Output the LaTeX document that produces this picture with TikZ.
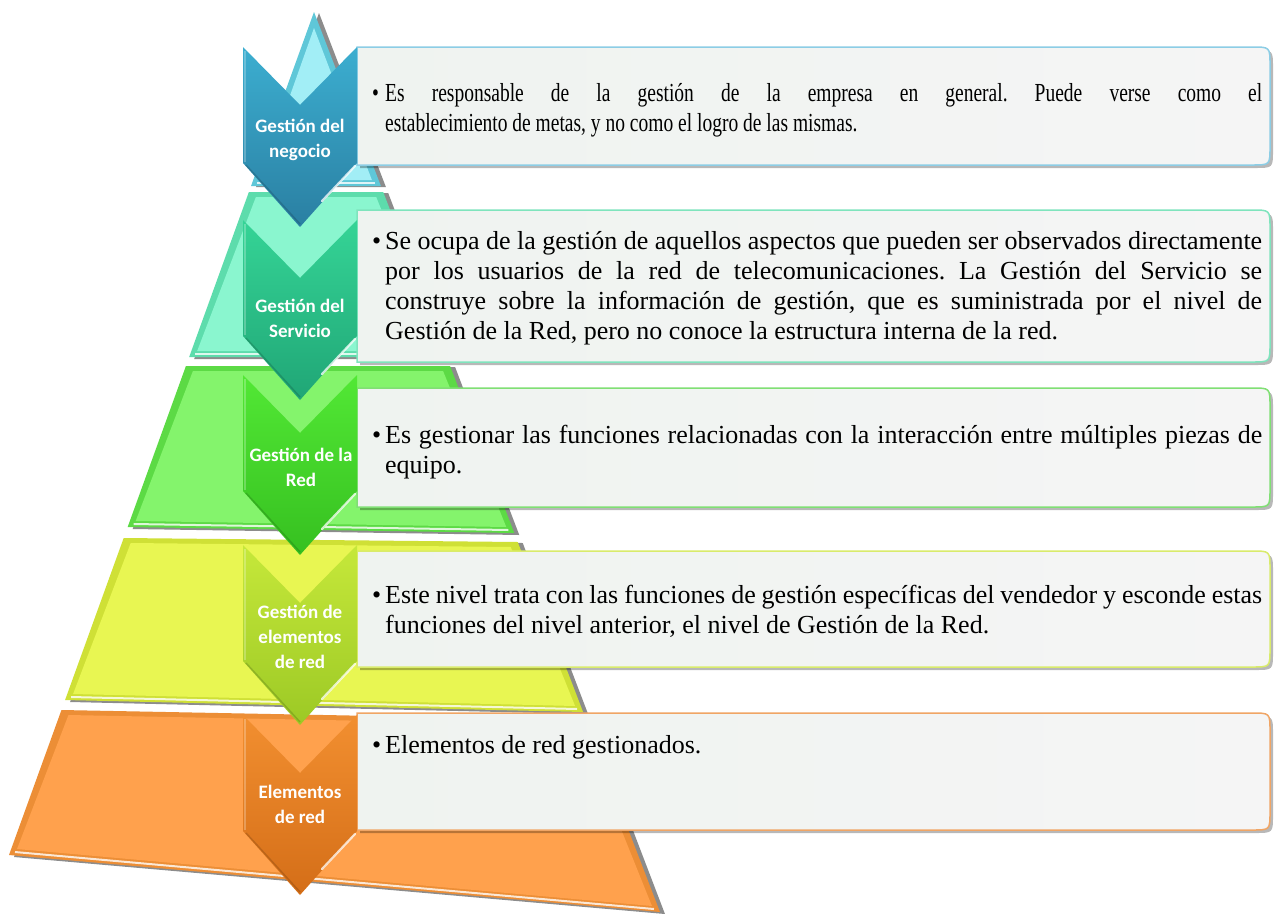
\documentclass[tikz,border=0pt]{standalone}
\usepackage{fontspec}
\setmainfont{Liberation Serif}
\newfontfamily\boxfont{Liberation Serif}
\newfontfamily\boxfontn[FakeStretch=0.75]{Liberation Serif}
\newfontfamily\labfont{Carlito}
\definecolor{l1main}{HTML}{A2EEF6}\definecolor{l1bev}{HTML}{5FC7D8}
\definecolor{l2main}{HTML}{8AF6CF}\definecolor{l2bev}{HTML}{5DDCAC}
\definecolor{l3main}{HTML}{84F46C}\definecolor{l3bev}{HTML}{5CDA45}
\definecolor{l4main}{HTML}{E8F652}\definecolor{l4bev}{HTML}{CFE036}
\definecolor{l5main}{HTML}{FFA14D}\definecolor{l5bev}{HTML}{EC8E36}
\definecolor{c1t}{HTML}{3CAED0}\definecolor{c1b}{HTML}{2A7FA2}
\definecolor{c2t}{HTML}{35D496}\definecolor{c2b}{HTML}{20A676}
\definecolor{c3t}{HTML}{52E835}\definecolor{c3b}{HTML}{36C020}
\definecolor{c4t}{HTML}{C6E83A}\definecolor{c4b}{HTML}{9CC925}
\definecolor{c5t}{HTML}{F28F30}\definecolor{c5b}{HTML}{D46E18}
\definecolor{b1}{HTML}{8CCDE5}\definecolor{b2}{HTML}{7FE4BD}
\definecolor{b3}{HTML}{80DF74}\definecolor{b4}{HTML}{D9EB6B}
\definecolor{b5}{HTML}{F0A565}
\definecolor{boxL}{HTML}{EFF3F0}\definecolor{boxR}{HTML}{F5F5F5}
\newcommand\bul{\hangindent=13pt\hangafter=1\noindent\makebox[13pt][l]{\textbullet}}
\newcommand\boxset{\frenchspacing\hyphenpenalty=10000\exhyphenpenalty=10000\tolerance=10000\fontsize{26}{30}\selectfont}
\tikzset{
  chevlabel/.style={text=white, font=\labfont\bfseries\fontsize{19}{25}\selectfont, align=center, inner sep=0pt},
  boxtext/.style={anchor=base west, inner sep=0pt},
  hilite/.style={white, opacity=.75, line width=2.2pt, line cap=round},
}
% pyramid layer: yTL yTR yBL yBR prefix
\newcommand\pyrlayer[5]{%
  \pgfmathsetmacro\xTL{314-0.3618*(#1-12)}%
  \pgfmathsetmacro\xTR{314+0.3844*(#2-12)}%
  \pgfmathsetmacro\xBL{314-0.3618*(#3-12)}%
  \pgfmathsetmacro\xBR{314+0.3844*(#4-12)}%
  \fill[black,opacity=.45] (\xTL+5,#1+1) -- (\xTR+5,#2+1) -- (\xBR+5,#4+2) -- (\xBL+5,#3+2) -- cycle;
  \fill[#5bev] (\xTL,#1) -- (\xTR,#2) -- (\xBR,#4) -- (\xBL,#3) -- cycle;
  \fill[#5main] (\xTL+7,#1+5) -- (\xTR-7,#2+5) -- (\xBR-8,#4-6) -- (\xBL+8,#3-6) -- cycle;
  \draw[white,opacity=.8,line width=2pt] (\xBL+6,#3-3) -- (\xBR-6,#4-3);
}
% chevron: top y, prefix, name
\newcommand\chev[3]{%
  \coordinate (#3) at (300,#1);
  \shade[top color=#2t, bottom color=#2b] (243,#1) -- (300,#1+58) -- (357,#1) -- (357,#1+116) -- (300,#1+180) -- (243,#1+116) -- cycle;
  \draw[white,opacity=.25,line width=1.5pt] (245,#1+4) -- (245,#1+115);
  \draw[black,opacity=.15,line width=1.5pt] (246,#1+118) -- (300,#1+177);
  \draw[hilite] (355,#1+119) -- (322,#1+154);
}
% text box: top, bottom, border colour, name
\newcommand\tbox[4]{%
  \coordinate (#4) at (357,#1);
  \fill[black,opacity=.28,xshift=3pt,yshift=-3pt] (357,#1) -- (1252,#1) .. controls (1270,#1) .. (1270,#1+18) -- (1270,#2-18) .. controls (1270,#2) .. (1252,#2) -- (357,#2) -- cycle;
  \shade[left color=boxL, right color=boxR] (357,#1) -- (1252,#1) .. controls (1270,#1) .. (1270,#1+18) -- (1270,#2-18) .. controls (1270,#2) .. (1252,#2) -- (357,#2) -- cycle;
  \draw[#3, line width=1.5pt] (357,#1) -- (1252,#1) .. controls (1270,#1) .. (1270,#1+18) -- (1270,#2-18) .. controls (1270,#2) .. (1252,#2) -- (357,#2) -- cycle;
}
\begin{document}
\begin{tikzpicture}[x=1pt,y=-1pt]
\useasboundingbox (0,0) rectangle (1281,913);
\fill[white] (0,0) rectangle (1281,913);
% top triangle
\pgfmathsetmacro\xa{314-0.3618*(186-12)}
\pgfmathsetmacro\xb{314+0.3844*(186-12)}
\fill[black,opacity=.45] (319,13) -- (\xb+5,187) -- (\xa+5,187) -- cycle;
\fill[l1bev] (314,12) -- (\xb,186) -- (\xa,186) -- cycle;
\fill[l1main] (314,28) -- (\xb-9,180) -- (\xa+9,180) -- cycle;
\draw[white,opacity=.8,line width=2pt] (\xa+6,183) -- (\xb-6,183);
\pyrlayer{192}{192}{357}{357}{l2}
\pyrlayer{366}{366}{527}{533}{l3}
\pyrlayer{538}{542}{700}{712}{l4}
\pyrlayer{710}{720}{855}{912}{l5}
% boxes
\tbox{47}{165}{b1}{B1}
\tbox{210}{362}{b2}{B2}
\tbox{388}{507}{b3}{B3}
\tbox{551}{667}{b4}{B4}
\tbox{713}{830}{b5}{B5}
% chevrons
\chev{47}{c1}{C1}
\chev{220}{c2}{C2}
\chev{375}{c3}{C3}
\chev{545}{c4}{C4}
\chev{715}{c5}{C5}
\node[chevlabel] (c1) at (300,140) {Gestión del\\negocio};
\node[chevlabel] (c2) at (300,318) {Gestión del\\Servicio};
\node[chevlabel] (c3) at (301,467) {Gestión de la\\Red};
\node[chevlabel] (c4) at (300,637) {Gestión de\\elementos\\de red};
\node[chevlabel] (c5) at (300,804) {Elementos\\de red};
% texts
\node[boxtext] (t1) at (372,101) {\parbox[t]{890pt}{\boxfontn\boxset\bul Es responsable de la gestión de la empresa en general. Puede verse como el\linebreak establecimiento de metas, y no como el logro de las mismas.}};
\node[boxtext] (t2) at (372,249) {\parbox[t]{890pt}{\boxfont\boxset\bul Se ocupa de la gestión de aquellos aspectos que pueden ser observados directamente\linebreak por los usuarios de la red de telecomunicaciones. La Gestión del Servicio se\linebreak construye sobre la información de gestión, que es suministrada por el nivel de\linebreak Gestión de la Red, pero no conoce la estructura interna de la red.}};
\node[boxtext] (t3) at (372,443) {\parbox[t]{890pt}{\boxfont\boxset\bul Es gestionar las funciones relacionadas con la interacción entre múltiples piezas de\linebreak equipo.}};
\node[boxtext] (t4) at (372,603) {\parbox[t]{890pt}{\boxfont\boxset\bul Este nivel trata con las funciones de gestión específicas del vendedor y esconde estas\linebreak funciones del nivel anterior, el nivel de Gestión de la Red.}};
\node[boxtext] (t5) at (372,753) {\parbox[t]{890pt}{\boxfont\boxset\bul Elementos de red gestionados.}};
\end{tikzpicture}
\end{document}
